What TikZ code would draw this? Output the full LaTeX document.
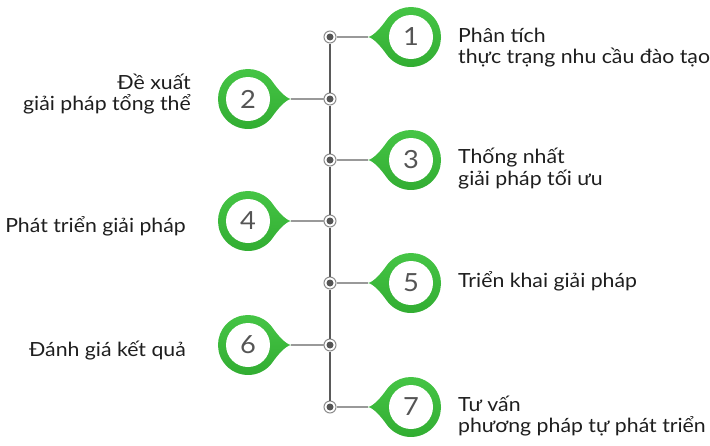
\documentclass[tikz,border=0pt]{standalone}
\usepackage{fontspec}
\setmainfont{Lato}[FakeStretch=1.09]
\begin{document}
\begin{tikzpicture}[x=1pt,y=-1pt,
  every node/.style={inner sep=0pt},
  label/.style={font=\fontsize{19.5}{22}\selectfont, text=txtcol},
  numtext/.style={font=\fontsize{25}{28}\selectfont, text=numcol},
  marker/.style={circle, draw=ringcol, line width=1pt, fill=white, minimum size=12pt},
  dot/.style={circle, fill=dotcol, minimum size=7pt},
  stem/.style={draw=stemcol, line width=1.2pt},
  spur/.style={draw=spurcol, line width=1.2pt},
  badge/.pic={
    \shade[top color=greenA, bottom color=greenB]
      (-43,0) .. controls (-37,-1) and (-29.2,-10.66) .. (-24.57,-17.21)
      arc[start angle=-145, end angle=145, radius=30]
      .. controls (-29.2,10.66) and (-37,1) .. cycle;
    \fill[white] (0,0) circle[radius=22];
  }]
\definecolor{greenA}{HTML}{46C646}
\definecolor{greenB}{HTML}{32AD32}
\definecolor{txtcol}{HTML}{1E1E1E}
\definecolor{numcol}{HTML}{555555}
\definecolor{ringcol}{HTML}{8C8C8C}
\definecolor{dotcol}{HTML}{555555}
\definecolor{stemcol}{HTML}{5A5A5A}
\definecolor{spurcol}{HTML}{999999}
\useasboundingbox (0,0) rectangle (710,445);

% markers
\foreach \i/\y in {1/37,2/99,3/160,4/221,5/283,6/345,7/407}{
  \node[marker] (m\i) at (330,\y) {};
}
\draw[stem] (m1) -- (m2) -- (m3) -- (m4) -- (m5) -- (m6) -- (m7);

% badges right
\foreach \i/\y in {1/37,3/160,5/283,7/407}{
  \pic at (411,\y) {badge};
  \coordinate (t\i) at (368,\y);
  \node[numtext] (n\i) at (411,\y) {\i};
  \draw[spur] (m\i) -- (t\i);
}
% badges left
\foreach \i/\y in {2/99,4/221,6/345}{
  \pic[xscale=-1] at (248,\y) {badge};
  \coordinate (t\i) at (291,\y);
  \node[numtext] (n\i) at (248,\y) {\i};
  \draw[spur] (m\i) -- (t\i);
}
\foreach \i in {1,...,7}{
  \node[dot] (d\i) at (m\i) {};
}

% labels right
\node[label, anchor=base west] (l1a) at (458,42) {Phân tích};
\node[label, anchor=base west] (l1b) at (458,63) {thực trạng nhu cầu đào tạo};
\node[label, anchor=base west] (l3a) at (458,163) {Thống nhất};
\node[label, anchor=base west] (l3b) at (458,185) {giải pháp tối ưu};
\node[label, anchor=base west] (l5) at (458,287) {Triển khai giải pháp};
\node[label, anchor=base west] (l7a) at (458,411) {Tư vấn};
\node[label, anchor=base west] (l7b) at (458,432) {phương pháp tự phát triển};
% labels left
\node[label, anchor=base east] (l2a) at (191,89) {Đề xuất};
\node[label, anchor=base east] (l2b) at (191,110) {giải pháp tổng thể};
\node[label, anchor=base east] (l4) at (186,232) {Phát triển giải pháp};
\node[label, anchor=base east] (l6) at (186,356) {Đánh giá kết quả};
\end{tikzpicture}
\end{document}
